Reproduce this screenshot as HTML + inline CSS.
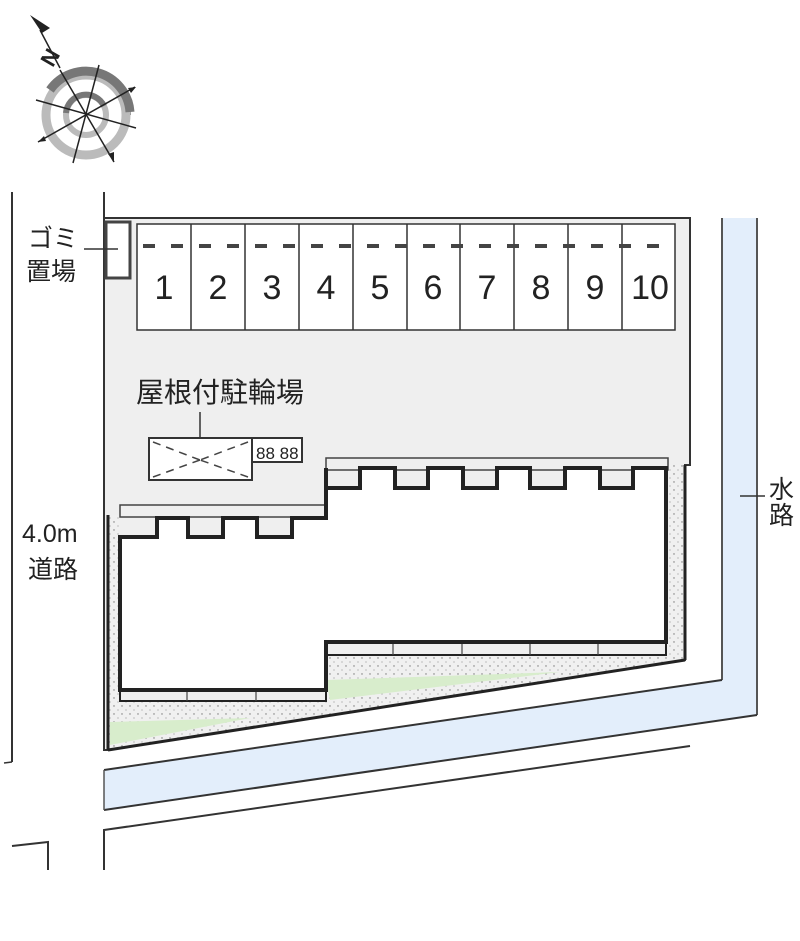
<!DOCTYPE html>
<html><head><meta charset="utf-8"><style>
html,body{margin:0;padding:0;background:#fff;}
svg{display:block;}
text{font-family:"Liberation Sans","Noto Sans CJK JP",sans-serif;fill:#222;}
</style></head><body>
<svg width="800" height="941" viewBox="0 0 800 941" xmlns="http://www.w3.org/2000/svg">
<defs>
<pattern id="dots" width="8" height="8" patternUnits="userSpaceOnUse">
<rect width="8" height="8" fill="#f0f0f0"/><circle cx="2" cy="2" r="0.7" fill="#777"/><circle cx="6" cy="6" r="0.6" fill="#999"/>
</pattern>
</defs>
<!-- compass -->
<g>
<path d="M 86 70 A 45 45 0 0 1 131 115 L 122 115 A 36 36 0 0 0 86 79 Z" fill="#777"/>
<circle cx="86" cy="115" r="40" fill="none" stroke="#bbb" stroke-width="9"/>
<path d="M 50 90 A 44 44 0 0 1 130 112" fill="none" stroke="#777" stroke-width="9"/>
<circle cx="86" cy="115" r="20" fill="none" stroke="#bbb" stroke-width="6"/>
<path d="M 66 113 A 20 20 0 0 1 104 106" fill="none" stroke="#777" stroke-width="6"/>
<g stroke="#222" stroke-width="1.5">
<line x1="60" y1="70" x2="114" y2="162"/>
<line x1="99" y1="65" x2="73" y2="163"/>
<line x1="38" y1="142" x2="135" y2="87"/>
<line x1="36" y1="100" x2="136" y2="128"/>
<line x1="40" y1="30" x2="60" y2="68"/>
</g>
<polygon points="30,15 50,28 42,33" fill="#222"/>
<polygon points="114,162 108,154 114,152" fill="#222"/>
<polygon points="38,142 44,136 46,141" fill="#222"/>
<polygon points="136,87 128,88 131,93" fill="#222"/>
<text x="40" y="64" font-size="22" font-weight="bold" transform="rotate(-60 50 55)">N</text>
</g>
<!-- left road line -->
<line x1="12" y1="192" x2="12" y2="762" stroke="#333" stroke-width="2"/>
<line x1="4" y1="763" x2="12" y2="762" stroke="#333" stroke-width="1.5"/>
<!-- lot -->
<polygon points="104,218 690,218 690,465 685,465 685,660 108,750 104,750" fill="#efefef" stroke="#333" stroke-width="2"/>
<line x1="104" y1="192" x2="104" y2="218" stroke="#333" stroke-width="2"/>
<!-- garbage -->
<rect x="106" y="222" width="24" height="56" fill="#fff" stroke="#444" stroke-width="3"/>
<line x1="84" y1="249" x2="118" y2="249" stroke="#333" stroke-width="1.5"/>
<!-- parking -->
<g stroke="#333" stroke-width="1.5" fill="#fff">
<rect x="137" y="224" width="538" height="106"/>
</g>
<g stroke="#333" stroke-width="1.5">
<line x1="191" y1="224" x2="191" y2="330"/><line x1="245" y1="224" x2="245" y2="330"/>
<line x1="299" y1="224" x2="299" y2="330"/><line x1="353" y1="224" x2="353" y2="330"/>
<line x1="407" y1="224" x2="407" y2="330"/><line x1="460" y1="224" x2="460" y2="330"/>
<line x1="514" y1="224" x2="514" y2="330"/><line x1="568" y1="224" x2="568" y2="330"/>
<line x1="622" y1="224" x2="622" y2="330"/>
</g>
<g stroke="#444" stroke-width="4" stroke-dasharray="12 16">
<line x1="143" y1="246" x2="675" y2="246"/>
</g>
<g font-size="34" text-anchor="middle">
<text x="164" y="299">1</text><text x="218" y="299">2</text><text x="272" y="299">3</text>
<text x="326" y="299">4</text><text x="380" y="299">5</text><text x="433" y="299">6</text>
<text x="487" y="299">7</text><text x="541" y="299">8</text><text x="595" y="299">9</text>
<text x="650" y="299">10</text>
</g>
<!-- bike shelter -->
<text x="136" y="402" font-size="28">屋根付駐輪場</text>
<line x1="200" y1="412" x2="200" y2="460" stroke="#333" stroke-width="1.5"/>
<rect x="149" y="438" width="103" height="42" fill="#fff" stroke="#333" stroke-width="2"/>
<g stroke="#444" stroke-width="1.5" stroke-dasharray="8 6">
<line x1="153" y1="442" x2="200" y2="460"/><line x1="248" y1="442" x2="200" y2="460"/>
<line x1="153" y1="477" x2="200" y2="460"/><line x1="248" y1="477" x2="200" y2="460"/>
</g>
<rect x="252" y="438" width="50" height="24" fill="#fff" stroke="#333" stroke-width="2"/>
<text x="256" y="459" font-size="17">88 88</text>
<!-- dotted band & green -->
<polygon points="108,515 120,515 120,700 326,700 326,655 666,655 666,465 685,465 685,660 108,750" fill="url(#dots)"/>
<polygon points="326,680 560,672 330,700" fill="#d8edcc"/>
<polygon points="110,722 250,718 110,745" fill="#d8edcc"/>
<line x1="108" y1="750" x2="685" y2="660" stroke="#222" stroke-width="3"/>
<line x1="108" y1="515" x2="108" y2="750" stroke="#222" stroke-width="3"/>
<line x1="685" y1="465" x2="685" y2="660" stroke="#222" stroke-width="3"/>
<!-- building strips -->
<rect x="326" y="458" width="342" height="12" fill="#efefef" stroke="#444" stroke-width="1.5"/>
<rect x="120" y="505" width="206" height="12" fill="#efefef" stroke="#444" stroke-width="1.5"/>
<rect x="326" y="642" width="340" height="13" fill="#efefef" stroke="#222" stroke-width="2"/>
<rect x="120" y="690" width="206" height="11" fill="#efefef" stroke="#222" stroke-width="2"/>
<g stroke="#444" stroke-width="1.2">
<line x1="393" y1="642" x2="393" y2="655"/><line x1="462" y1="642" x2="462" y2="655"/>
<line x1="530" y1="642" x2="530" y2="655"/><line x1="598" y1="642" x2="598" y2="655"/>
<line x1="187" y1="690" x2="187" y2="701"/><line x1="256" y1="690" x2="256" y2="701"/>
</g>
<!-- building body -->
<polygon points="326,468 326,488 360,488 360,468 395,468 395,488 428,488 428,468 463,468 463,488 497,488 497,468 530,468 530,488 565,488 565,468 600,468 600,488 633,488 633,468 666,468 666,642 326,642 326,690 120,690 120,537 157,537 157,518 188,518 188,537 223,537 223,518 257,518 257,537 292,537 292,518 326,518" fill="#fff" stroke="#222" stroke-width="4" stroke-linejoin="miter"/>
<rect x="120" y="470" width="206" height="46" fill="none"/>
<!-- 水路 right -->
<polygon points="722,218 757,218 757,715 104,810 104,770 722,680" fill="#e3eefb"/>
<line x1="722" y1="218" x2="722" y2="680" stroke="#555" stroke-width="2"/>
<line x1="757" y1="218" x2="757" y2="715" stroke="#555" stroke-width="2"/>
<line x1="104" y1="770" x2="722" y2="680" stroke="#333" stroke-width="2"/>
<line x1="104" y1="810" x2="757" y2="715" stroke="#333" stroke-width="2"/>
<line x1="104" y1="770" x2="104" y2="810" stroke="#555" stroke-width="1.5"/>
<line x1="740" y1="496" x2="765" y2="496" stroke="#333" stroke-width="1.5"/>
<!-- lower road -->
<polyline points="104,870 104,830 690,746" fill="none" stroke="#333" stroke-width="2"/>
<polyline points="12,846 48,842 48,870" fill="none" stroke="#333" stroke-width="2"/>
<!-- labels -->
<text x="28" y="247" font-size="25">ゴミ</text>
<text x="26" y="280" font-size="25">置場</text>
<text x="22" y="542" font-size="25">4.0m</text>
<text x="28" y="578" font-size="25">道路</text>
<text x="769" y="498" font-size="25">水</text>
<text x="769" y="524" font-size="25">路</text>
</svg>
</body></html>
